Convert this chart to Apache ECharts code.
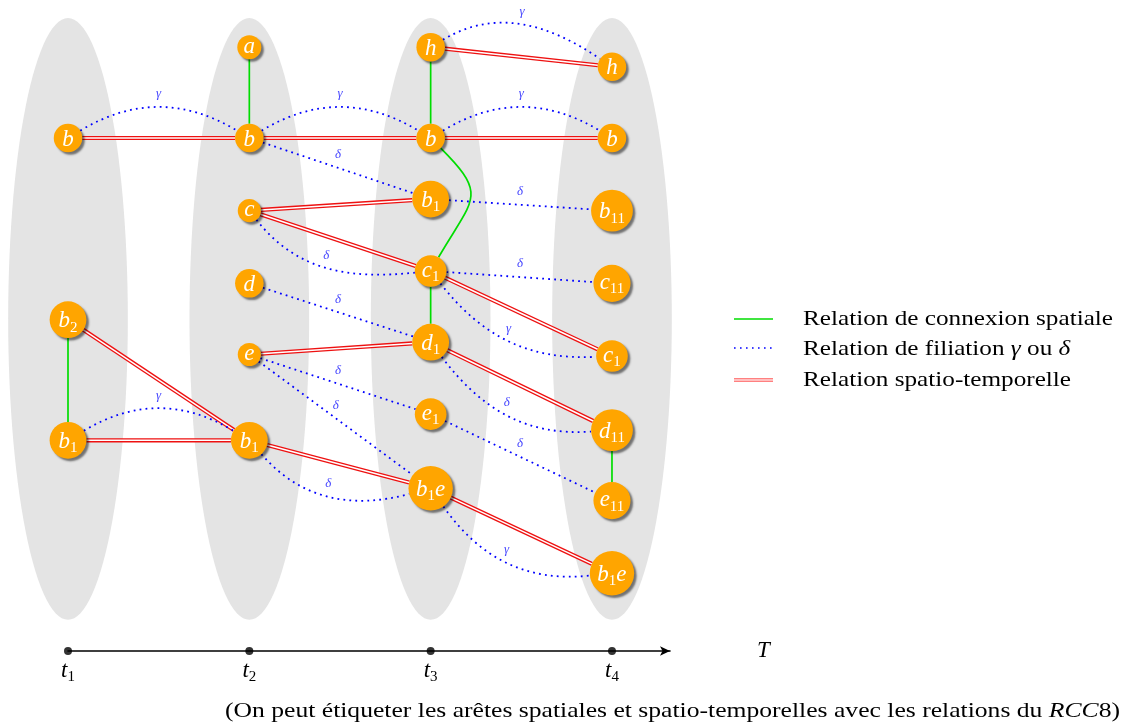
<!DOCTYPE html>
<html><head><meta charset="utf-8">
<script src="https://cdn.jsdelivr.net/npm/echarts@6/dist/echarts.min.js"></script>
<style>html,body{margin:0;padding:0;background:#fff}#main{width:1125px;height:726px}</style>
</head><body><div id="main"></div>
<script>
// ---------------- DATA ----------------
const times = [1, 2, 3, 4];
const timeLabels = ['t_1', 't_2', 't_3', 't_4'];
const axisName = 'T';
// [id, label, time, level]
const nodes = [
  ['b.1', 'b', 1, 0], ['b2.1', 'b_2', 1, 2.5], ['b1.1', 'b_1', 1, 4.16],
  ['a.2', 'a', 2, -1.25], ['b.2', 'b', 2, 0], ['c.2', 'c', 2, 1], ['d.2', 'd', 2, 2], ['e.2', 'e', 2, 2.98], ['b1.2', 'b_1', 2, 4.16],
  ['h.3', 'h', 3, -1.25], ['b.3', 'b', 3, 0], ['b1.3', 'b_1', 3, 0.84], ['c1.3', 'c_1', 3, 1.83], ['d1.3', 'd_1', 3, 2.81], ['e1.3', 'e_1', 3, 3.8], ['b1e.3', 'b_1e', 3, 4.82],
  ['h.4', 'h', 4, -0.98], ['b.4', 'b', 4, 0], ['b11.4', 'b_11', 4, 1], ['c11.4', 'c_11', 4, 2], ['c1.4', 'c_1', 4, 3], ['d11.4', 'd_11', 4, 4.02], ['e11.4', 'e_11', 4, 4.99], ['b1e.4', 'b_1e', 4, 5.99]
];
const spatialEdges = [['a.2', 'b.2'], ['h.3', 'b.3'], ['b.3', 'c1.3'], ['c1.3', 'd1.3'], ['b2.1', 'b1.1'], ['d11.4', 'e11.4']];
const filiationEdges = [
  ['b.1', 'b.2', 'γ'], ['b.2', 'b.3', 'γ'], ['b.3', 'b.4', 'γ'], ['h.3', 'h.4', 'γ'],
  ['b.2', 'b1.3', 'δ'], ['b1.3', 'b11.4', 'δ'], ['c.2', 'c1.3', 'δ'], ['c1.3', 'c11.4', 'δ'], ['c1.3', 'c1.4', 'γ'],
  ['d.2', 'd1.3', 'δ'], ['d1.3', 'd11.4', 'δ'], ['e.2', 'e1.3', 'δ'], ['e.2', 'b1e.3', 'δ'], ['e1.3', 'e11.4', 'δ'],
  ['b1.1', 'b1.2', 'γ'], ['b1.2', 'b1e.3', 'δ'], ['b1e.3', 'b1e.4', 'γ']
];
const spatioTemporalEdges = [
  ['b.1', 'b.2'], ['b.2', 'b.3'], ['b.3', 'b.4'], ['h.3', 'h.4'], ['c.2', 'b1.3'], ['c.2', 'c1.3'], ['c1.3', 'c1.4'],
  ['e.2', 'd1.3'], ['d1.3', 'd11.4'], ['b2.1', 'b1.2'], ['b1.1', 'b1.2'], ['b1.2', 'b1e.3'], ['b1e.3', 'b1e.4']
];
const legendLabels = ['Relation de connexion spatiale', 'Relation de filiation {g|γ} ou {g|δ}', 'Relation spatio-temporelle'];
const captionText = '(On peut étiqueter les arêtes spatiales et spatio-temporelles avec les relations du {i|RCC}8)';

// ---------------- STYLE / GEOMETRY ----------------
const SERIF = '"Liberation Serif", "Times New Roman", serif';
const MAIN_FS = 23, SUB_FS = 15;
// curve shapes (tikz-like out / in angles, degrees) for filiation and spatial edges
const curveShape = {
  'b.1>b.2': {out: 31, in: 149}, 'b.2>b.3': {out: 31, in: 149}, 'b.3>b.4': {out: 31, in: 149},
  'h.3>h.4': {out: 31, in: 146}, 'b1.1>b1.2': {out: 31, in: 149},
  'c.2>c1.3': {out: -52, in: 186}, 'c1.3>c1.4': {out: -52, in: 183}, 'd1.3>d11.4': {out: -53, in: 184},
  'b1.2>b1e.3': {out: -49, in: 195}, 'b1e.3>b1e.4': {out: -55, in: 186},
  'b.3>c1.3': {out: -45, in: 60, loose: 1.6}
};
const ellipseCenterLevel = 2.49, ellipseRy = 4.14, ellipseRx = 0.33;

const nodeMap = {};
nodes.forEach(n => nodeMap[n[0]] = n);

function parse(label) {
  const res = []; let i = 0;
  while (i < label.length) {
    if (label[i] === '_') { let j = i + 1; while (j < label.length && /\d/.test(label[j])) j++; res.push({s: true, t: label.slice(i + 1, j)}); i = j; }
    else { let j = i; while (j < label.length && label[j] !== '_') j++; res.push({s: false, t: label.slice(i, j)}); i = j; }
  }
  return res;
}
function richStr(label) { return parse(label).map(p => '{' + (p.s ? 's' : 'm') + '|' + p.t + '}').join(''); }
const mctx = document.createElement('canvas').getContext('2d');
function labelInfo(label) {
  let W = 0, asc = false, sub = false;
  parse(label).forEach(p => {
    mctx.font = p.s ? (SUB_FS + 'px ' + SERIF) : ('italic ' + MAIN_FS + 'px ' + SERIF);
    W += mctx.measureText(p.t).width;
    if (p.s) sub = true; else if (/[bdhklf]/.test(p.t)) asc = true;
  });
  const H = (asc ? 16.5 : 10.5) + (sub ? 4.5 : 0);
  return {r: 0.5 * Math.hypot(W + 6, H + 6), asc, sub};
}

function edgeGeom(e, api, curved) {
  const A = nodeMap[e[0]], B = nodeMap[e[1]];
  const p = api.coord([A[2], A[3]]), q = api.coord([B[2], B[3]]);
  const ra = labelInfo(A[1]).r, rb = labelInfo(B[1]).r;
  const sh = curved ? curveShape[e[0] + '>' + e[1]] : null;
  if (!sh) {
    const dx = q[0] - p[0], dy = q[1] - p[1], L = Math.hypot(dx, dy), ux = dx / L, uy = dy / L;
    const s = [p[0] + ux * ra, p[1] + uy * ra], t = [q[0] - ux * rb, q[1] - uy * rb];
    return {type: 'line', shape: {x1: s[0], y1: s[1], x2: t[0], y2: t[1]}, mid: [(s[0] + t[0]) / 2, (s[1] + t[1]) / 2]};
  }
  const ao = sh.out * Math.PI / 180, ai = sh.in * Math.PI / 180;
  const s = [p[0] + ra * Math.cos(ao), p[1] - ra * Math.sin(ao)];
  const t = [q[0] + rb * Math.cos(ai), q[1] - rb * Math.sin(ai)];
  const d = 0.3915 * (sh.loose || 1) * Math.hypot(t[0] - s[0], t[1] - s[1]);
  const c1 = [s[0] + d * Math.cos(ao), s[1] - d * Math.sin(ao)];
  const c2 = [t[0] + d * Math.cos(ai), t[1] - d * Math.sin(ai)];
  return {type: 'bezierCurve', shape: {x1: s[0], y1: s[1], x2: t[0], y2: t[1], cpx1: c1[0], cpy1: c1[1], cpx2: c2[0], cpy2: c2[1]},
    mid: [(s[0] + 3 * c1[0] + 3 * c2[0] + t[0]) / 8, (s[1] + 3 * c1[1] + 3 * c2[1] + t[1]) / 8]};
}

const chart = echarts.init(document.getElementById('main'), null, {renderer: 'canvas'});

const option = {
  backgroundColor: '#ffffff',
  animation: false,
  grid: [
    {left: 68, right: 455, top: 138, bottom: 152},
    {left: 68, right: 455, top: 641, height: 10}
  ],
  xAxis: [
    {gridIndex: 0, type: 'value', min: 1, max: 4.32, show: false},
    {gridIndex: 1, type: 'value', min: 1, max: 4.32, interval: 1, position: 'bottom',
      axisLine: {onZero: false, lineStyle: {color: '#000', width: 1.6}, symbol: ['none', 'arrow'], symbolSize: [7, 10]},
      axisTick: {show: false}, splitLine: {show: false},
      axisLabel: {margin: 6, formatter: v => Number.isInteger(v) && v >= 1 && v <= 4 ? richStr(timeLabels[v - 1]) : '',
        rich: {m: {fontFamily: SERIF, fontStyle: 'italic', fontSize: MAIN_FS, color: '#000'},
               s: {fontFamily: SERIF, fontSize: SUB_FS, color: '#000', padding: [13, 0, 0, 0]}}},
      name: axisName, nameLocation: 'end', nameGap: 87,
      nameTextStyle: {fontFamily: SERIF, fontStyle: 'italic', fontSize: MAIN_FS, color: '#000'}}
  ],
  yAxis: [
    {gridIndex: 0, type: 'value', min: 0, max: 6, inverse: true, show: false},
    {gridIndex: 1, type: 'value', min: 0, max: 1, show: false}
  ],
  series: [
    { // time slices (ellipses)
      type: 'custom', xAxisIndex: 0, yAxisIndex: 0, clip: false, z: 1, silent: true,
      data: times.map(t => [t, ellipseCenterLevel]),
      renderItem: (params, api) => {
        const t = api.value(0), pts = [];
        for (let k = 0; k < 120; k++) {
          const a = k / 120 * Math.PI * 2;
          pts.push(api.coord([t + ellipseRx * Math.cos(a), ellipseCenterLevel + ellipseRy * Math.sin(a)]));
        }
        return {type: 'polygon', shape: {points: pts}, style: {fill: '#e4e4e4'}};
      }
    },
    { // spatio-temporal (red double)
      type: 'custom', xAxisIndex: 0, yAxisIndex: 0, clip: false, z: 2, silent: true,
      data: spatioTemporalEdges.map((e, i) => [i]),
      renderItem: (params, api) => {
        const g = edgeGeom(spatioTemporalEdges[params.dataIndex], api, false);
        return {type: 'group', children: [
          {type: g.type, shape: g.shape, style: {stroke: '#ee1111', lineWidth: 4.2, fill: null}},
          {type: g.type, shape: g.shape, style: {stroke: '#ffffff', lineWidth: 1.5, fill: null}}
        ]};
      }
    },
    { // spatial (green)
      type: 'custom', xAxisIndex: 0, yAxisIndex: 0, clip: false, z: 3, silent: true,
      data: spatialEdges.map((e, i) => [i]),
      renderItem: (params, api) => {
        const g = edgeGeom(spatialEdges[params.dataIndex], api, true);
        return {type: g.type, shape: g.shape, style: {stroke: '#00dd00', lineWidth: 1.7, fill: null}};
      }
    },
    { // filiation (blue dotted)
      type: 'custom', xAxisIndex: 0, yAxisIndex: 0, clip: false, z: 4, silent: true,
      data: filiationEdges.map((e, i) => [i]),
      renderItem: (params, api) => {
        const e = filiationEdges[params.dataIndex];
        const g = edgeGeom(e, api, true);
        return {type: 'group', children: [
          {type: g.type, shape: g.shape, style: {stroke: '#0000ff', lineWidth: 1.8, fill: null, lineDash: [1.8, 4.2]}},
          {type: 'text', x: g.mid[0], y: g.mid[1] - 13, style: {text: e[2], fill: '#4848ff', font: 'italic 13px ' + SERIF, align: 'center', verticalAlign: 'middle'}}
        ]};
      }
    },
    { // nodes
      type: 'custom', xAxisIndex: 0, yAxisIndex: 0, clip: false, z: 5, silent: true,
      data: nodes.map(n => [n[2], n[3]]),
      renderItem: (params, api) => {
        const n = nodes[params.dataIndex];
        const c = api.coord([api.value(0), api.value(1)]);
        const info = labelInfo(n[1]);
        const dy = info.asc ? 1.5 : -0.5;
        return {type: 'group', children: [
          {type: 'circle', shape: {cx: c[0], cy: c[1], r: info.r},
            style: {fill: '#ffa500', shadowBlur: 2, shadowOffsetX: 2.5, shadowOffsetY: 2.5, shadowColor: 'rgba(0,0,0,0.5)'}},
          {type: 'text', x: c[0], y: c[1] + dy, style: {text: richStr(n[1]), align: 'center', verticalAlign: 'middle',
            rich: {m: {fontFamily: SERIF, fontStyle: 'italic', fontSize: MAIN_FS, fill: '#ffffff'},
                   s: {fontFamily: SERIF, fontSize: SUB_FS, fill: '#ffffff', padding: [13, 0, 0, 0]}}}}
        ]};
      }
    },
    { // time axis points
      type: 'scatter', xAxisIndex: 1, yAxisIndex: 1, z: 6, silent: true,
      data: times.map(t => [t, 0]), symbolSize: 8, itemStyle: {color: '#000'}
    }
  ],
  graphic: [
    {type: 'line', shape: {x1: 734, y1: 319, x2: 773, y2: 319}, style: {stroke: '#00dd00', lineWidth: 1.6}},
    {type: 'line', shape: {x1: 734, y1: 348, x2: 773, y2: 348}, style: {stroke: '#0000ff', lineWidth: 1.6, lineDash: [1.6, 4.4]}},
    {type: 'line', shape: {x1: 734, y1: 380, x2: 773, y2: 380}, style: {stroke: '#ff8080', lineWidth: 4.2}},
    {type: 'line', shape: {x1: 734, y1: 380, x2: 773, y2: 380}, style: {stroke: '#ffffff', lineWidth: 1.2}},
    {type: 'text', x: 803, y: 319, scaleX: 1.2, style: {text: legendLabels[0], font: '21px ' + SERIF, fill: '#000', verticalAlign: 'middle'}},
    {type: 'text', x: 803, y: 349, scaleX: 1.2, style: {text: legendLabels[1], font: '21px ' + SERIF, fill: '#000', verticalAlign: 'middle',
      rich: {g: {fontFamily: SERIF, fontStyle: 'italic', fontSize: 21, fill: '#000'}}}},
    {type: 'text', x: 803, y: 380, scaleX: 1.2, style: {text: legendLabels[2], font: '21px ' + SERIF, fill: '#000', verticalAlign: 'middle'}},
    {type: 'text', x: 225, y: 711, scaleX: 1.22, style: {text: captionText, font: '21px ' + SERIF, fill: '#000', verticalAlign: 'middle',
      rich: {i: {fontFamily: SERIF, fontStyle: 'italic', fontSize: 21, fill: '#000'}}}}
  ]
};
chart.setOption(option);
</script></body></html>
